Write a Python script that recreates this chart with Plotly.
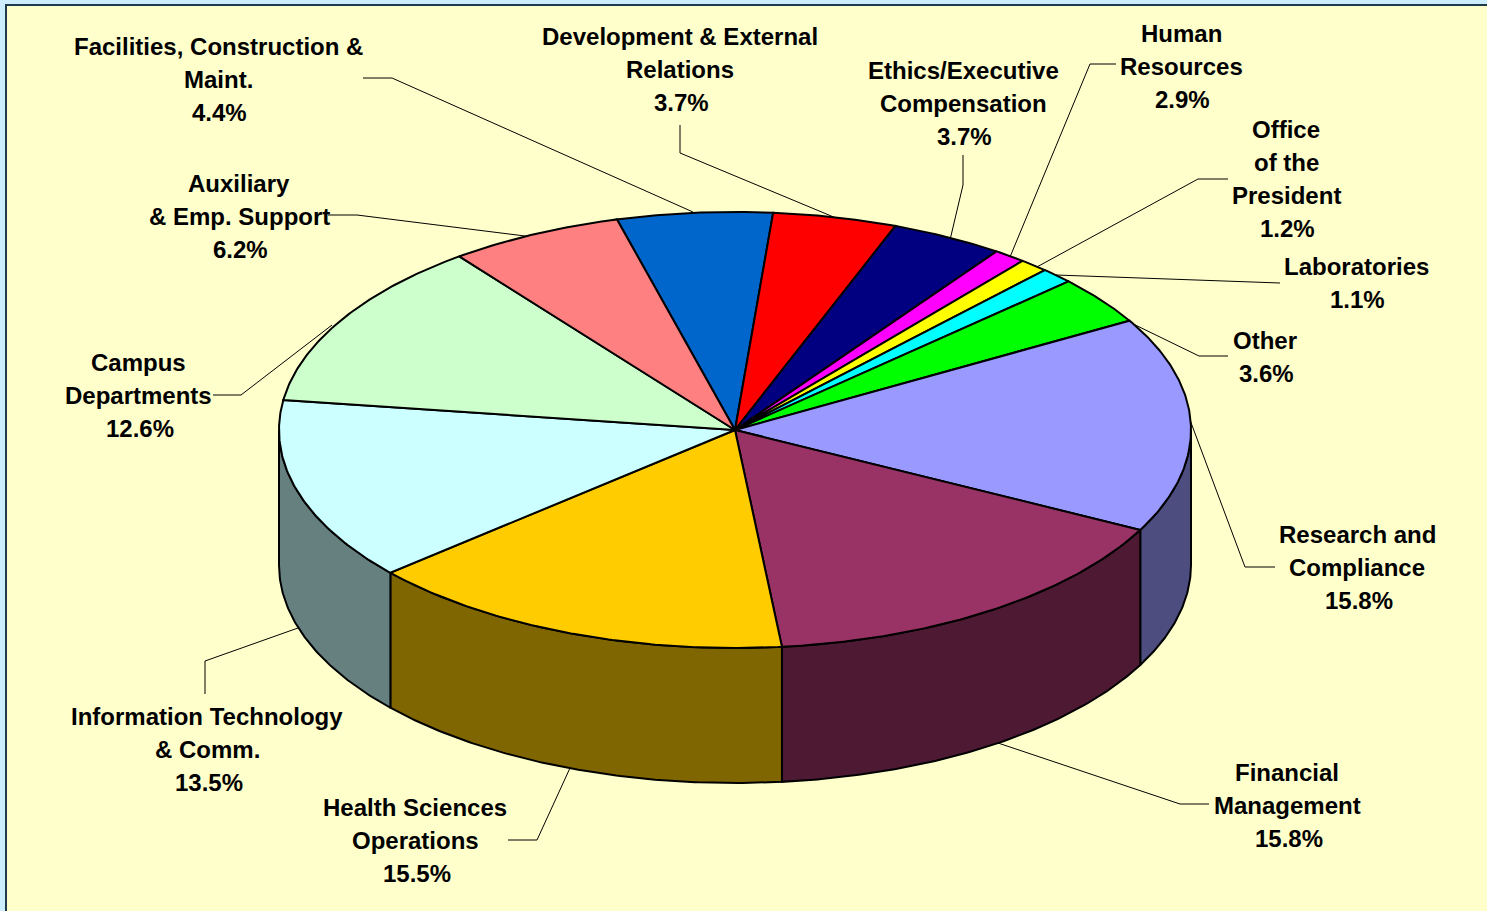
import math
import plotly.graph_objects as go

# Slices clockwise, starting at the blue one
categories = ["Facilities, Construction & Maint.", "Development & External Relations",
              "Ethics/Executive Compensation", "Human Resources", "Office of the President",
              "Laboratories", "Other", "Research and Compliance", "Financial Management",
              "Health Sciences Operations", "Information Technology & Comm.",
              "Campus Departments", "Auxiliary & Emp. Support"]
# Share of the pie as drawn
drawn_shares = [5.5, 4.39, 4.0, 1.14, 1.03, 1.17, 3.58, 15.94, 15.78, 15.28, 13.56, 12.47, 6.17]
# Percentages as printed on the labels
label_percent = ["4.4%", "3.7%", "3.7%", "2.9%", "1.2%", "1.1%", "3.6%", "15.8%", "15.8%",
                 "15.5%", "13.5%", "12.6%", "6.2%"]
label_lines = [["Facilities, Construction &", "Maint."], ["Development & External", "Relations"],
               ["Ethics/Executive", "Compensation"], ["Human", "Resources"],
               ["Office", "of the", "President"], ["Laboratories"], ["Other"],
               ["Research and", "Compliance"], ["Financial", "Management"],
               ["Health Sciences", "Operations"], ["Information Technology", "& Comm."],
               ["Campus", "Departments"], ["Auxiliary", "& Emp. Support"]]
top_colors = ["#0066CC", "#FF0000", "#000080", "#FF00FF", "#FFFF00", "#00FFFF", "#00FF00",
              "#9999FF", "#993366", "#FFCC00", "#CCFFFF", "#CCFFCC", "#FF8080"]
wall_colors = ["#003366", "#800000", "#000040", "#800080", "#808000", "#008080", "#008000",
               "#4D4D80", "#4D1933", "#806600", "#668080", "#668066", "#804040"]

# Layout of the picture
CX, CY, RX, RY, DEPTH = 735, 430, 456, 218, 135
START_DEG = -15.0
FONT_SIZE = 24
LINE_STEP = 33.3
PERCENT_NUDGE = 1.5
label_centers = [(218, 46), (680, 36), (963, 70), (1181, 33), (1286, 129), (1356, 266), (1265, 340),
                 (1357, 534), (1287, 772), (415, 807), (207, 716), (138, 362), (239, 183)]
leaders = [[(363, 78), (392, 78), (693, 212)], [(680, 125), (680, 153), (836, 218)],
           [(963, 155), (963, 185), (950, 240)], [(1116, 64), (1090, 64), (1010, 257)],
           [(1228, 179), (1198, 179), (1035, 268)], [(1280, 283), (1056, 275)],
           [(1228, 356), (1199, 356), (1125, 320)], [(1275, 567), (1245, 567), (1190, 420)],
           [(1209, 804), (1180, 804), (995, 742)], [(508, 840), (537, 840), (570, 768)],
           [(205, 694), (205, 661), (298, 628)], [(213, 395), (241, 395), (332, 325)],
           [(328, 215), (357, 215), (533, 237)]]


def rim(deg, drop=0):
    a = math.radians(deg)
    return CX + RX * math.sin(a), CY - RY * math.cos(a) + drop


def arc(a0, a1, drop=0):
    n = max(2, int(abs(a1 - a0) * 2))
    return [rim(a0 + (a1 - a0) * i / n, drop) for i in range(n + 1)]


total = sum(drawn_shares)
edges = [START_DEG]
for s in drawn_shares:
    edges.append(edges[-1] + 360 * s / total)

fig = go.Figure()


def poly(pts, color, name):
    fig.add_trace(go.Scatter(x=[p[0] for p in pts] + [pts[0][0]], y=[p[1] for p in pts] + [pts[0][1]],
                             mode="lines", fill="toself", fillcolor=color,
                             line=dict(color="black", width=2), name=name, hoverinfo="name",
                             showlegend=False))


# Front walls (the part of the rim that faces the viewer)
for i, name in enumerate(categories):
    a0, a1 = max(edges[i], 90), min(edges[i + 1], 270)
    if a1 > a0:
        poly(arc(a0, a1) + arc(a1, a0, DEPTH), wall_colors[i], name)

# Top faces
for i, name in enumerate(categories):
    poly([(CX, CY)] + arc(edges[i], edges[i + 1]), top_colors[i], name)

shapes = [dict(type="rect", xref="x", yref="y", x0=6, y0=5, x1=1600, y1=1000,
               fillcolor="#FFFFCC", line=dict(color="#1F3A4A", width=2), layer="below")]
for pts in leaders:
    shapes.append(dict(type="path", xref="x", yref="y", layer="below",
                       path="M" + " L".join(f"{x},{y}" for x, y in pts),
                       line=dict(color="black", width=1)))

annotations = []
for i, lines in enumerate(label_lines):
    cx, cy = label_centers[i]
    for j, text in enumerate(lines + [label_percent[i]]):
        nudge = PERCENT_NUDGE if j == len(lines) else 0
        annotations.append(dict(x=cx + nudge, y=cy + j * LINE_STEP, xref="x", yref="y", text=text,
                                showarrow=False, xanchor="center", yanchor="middle",
                                font=dict(family="Liberation Sans", size=FONT_SIZE, color="black",
                                          weight="bold")))

fig.update_layout(width=1487, height=911, margin=dict(l=0, r=0, t=0, b=0), autosize=False,
                  paper_bgcolor="#CCECFF", plot_bgcolor="#CCECFF", shapes=shapes,
                  annotations=annotations,
                  xaxis=dict(range=[0, 1487], visible=False, fixedrange=True),
                  yaxis=dict(range=[911, 0], visible=False, fixedrange=True))
fig.write_html("out.html", config={"displayModeBar": False},
               post_script="document.body.style.margin='0';document.body.style.overflow='hidden';")
